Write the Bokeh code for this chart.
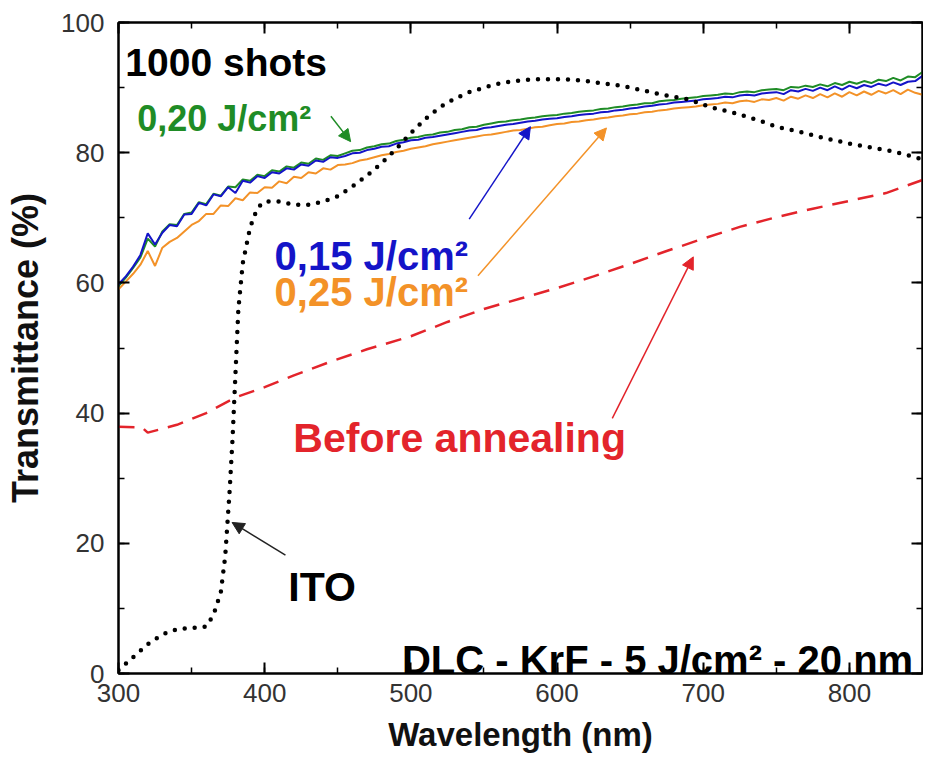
from bokeh.plotting import figure
from bokeh.models import (Range1d, LinearAxis, SingleIntervalTicker, Label, Arrow,
                          NormalHead, CustomLabelingPolicy)
from bokeh.embed import file_html
from bokeh.resources import INLINE

# ---------------- data ----------------
wl = list(range(300, 851, 5))

t_020 = [59.5, 60.8, 62.3, 63.9, 66.8, 65.6, 67.9, 69.0, 68.9, 70.6, 70.8, 72.4, 72.1, 73.7, 73.4, 74.8,
         74.7, 75.9, 75.7, 76.6, 76.4, 77.3, 77.1, 77.9, 77.7, 78.5, 78.3, 79.1, 78.9, 79.6, 79.5, 79.9,
         80.3, 80.4, 80.8, 81.0, 81.3, 81.4, 81.8, 82.0, 82.3, 82.4, 82.7, 82.8, 83.1, 83.2, 83.5, 83.6,
         83.9, 84.0, 84.3, 84.5, 84.7, 84.8, 85.0, 85.1, 85.3, 85.4, 85.6, 85.7, 85.8, 86.0, 86.1, 86.3,
         86.4, 86.5, 86.7, 86.8, 87.0, 87.1, 87.3, 87.4, 87.6, 87.6, 87.9, 88.0, 88.1, 88.3, 88.4, 88.5,
         88.7, 88.8, 88.9, 89.1, 89.0, 89.3, 89.4, 89.3, 89.6, 89.7, 89.8, 89.6, 90.1, 90.0, 90.3, 90.1,
         90.5, 90.2, 90.7, 90.4, 90.9, 90.6, 91.0, 90.7, 91.2, 91.0, 91.5, 91.1, 91.7, 91.6, 92.4]

t_015 = [59.8, 61.0, 62.5, 64.3, 67.6, 65.9, 67.7, 68.9, 68.7, 70.5, 70.6, 72.3, 71.9, 73.6, 73.3, 74.7,
         73.8, 75.7, 75.4, 76.4, 76.1, 77.0, 76.8, 77.6, 77.4, 78.2, 78.0, 78.8, 78.6, 79.3, 79.2, 79.5,
         79.9, 80.0, 80.4, 80.6, 80.9, 81.0, 81.4, 81.6, 81.9, 82.0, 82.3, 82.4, 82.6, 82.8, 83.0, 83.2,
         83.4, 83.5, 83.8, 83.9, 84.1, 84.3, 84.4, 84.6, 84.8, 84.9, 85.1, 85.2, 85.3, 85.5, 85.6, 85.8,
         85.9, 86.0, 86.2, 86.3, 86.5, 86.6, 86.8, 86.9, 87.1, 87.2, 87.4, 87.5, 87.7, 87.8, 87.9, 88.0,
         88.2, 88.3, 88.4, 88.6, 88.5, 88.8, 88.9, 88.8, 89.1, 89.2, 89.3, 89.0, 89.6, 89.4, 89.8, 89.5,
         90.0, 89.6, 90.2, 89.7, 90.3, 89.9, 90.4, 90.1, 90.6, 90.3, 90.8, 90.4, 90.9, 91.0, 91.8]

t_025 = [59.0, 60.2, 61.4, 62.8, 64.9, 62.6, 65.4, 66.3, 66.9, 67.9, 68.9, 69.5, 70.6, 70.6, 71.9, 71.8,
         73.0, 72.7, 73.9, 73.8, 74.7, 74.6, 75.6, 75.3, 76.3, 76.1, 77.0, 76.8, 77.6, 77.4, 78.1, 78.2,
         78.4, 78.8, 79.0, 79.3, 79.6, 79.8, 80.1, 80.3, 80.6, 80.8, 81.0, 81.3, 81.5, 81.7, 81.9, 82.1,
         82.3, 82.5, 82.7, 82.8, 83.0, 83.2, 83.4, 83.5, 83.7, 83.9, 84.0, 84.2, 84.4, 84.5, 84.7, 84.8,
         85.0, 85.1, 85.3, 85.4, 85.6, 85.7, 85.9, 86.0, 86.2, 86.3, 86.5, 86.6, 86.8, 86.9, 87.0, 87.1,
         87.3, 87.4, 87.5, 87.7, 87.6, 87.9, 88.0, 87.8, 88.2, 88.1, 88.4, 88.0, 88.6, 88.3, 88.8, 88.4,
         89.0, 88.5, 89.1, 88.6, 89.3, 88.8, 89.4, 88.9, 89.5, 89.1, 89.6, 89.0, 89.7, 89.2, 88.9]

before_wl = [300, 316, 320, 340, 360, 380, 400, 420, 445, 470, 500, 525, 550, 575, 600, 625, 650,
             675, 700, 725, 750, 775, 800, 825, 850]
before_t = [37.9, 37.8, 37.0, 38.2, 40.0, 42.4, 44.0, 45.8, 47.9, 49.8, 51.8, 54.0, 56.0, 57.6, 59.2,
            61.0, 62.9, 64.9, 66.8, 68.6, 70.1, 71.4, 72.6, 73.8, 75.8]

ito_wl = [300, 310, 320, 330, 340, 350, 360, 365, 370, 373, 376, 378, 380, 382, 385, 390, 395, 400,
          410, 420, 430, 440, 450, 460, 470, 480, 490, 500, 510, 520, 530, 540, 550, 560, 570, 580,
          590, 600, 610, 620, 630, 640, 650, 660, 670, 680, 690, 700, 710, 720, 730, 740, 750, 760,
          770, 780, 790, 800, 810, 820, 830, 840, 850]
ito_t = [0.5, 2.5, 4.5, 6.0, 6.8, 7.0, 7.2, 9.0, 12.5, 18.0, 28.0, 36.0, 46.0, 56.0, 63.0, 68.5, 71.5,
         72.5, 72.5, 72.0, 72.0, 72.5, 73.3, 74.8, 76.5, 78.4, 80.6, 83.0, 85.2, 87.0, 88.3, 89.3, 90.0,
         90.6, 91.0, 91.2, 91.3, 91.3, 91.2, 91.0, 90.7, 90.4, 90.0, 89.5, 89.0, 88.6, 88.2, 87.4, 86.7,
         86.2, 85.5, 84.8, 84.0, 83.5, 83.0, 82.4, 81.9, 81.4, 81.0, 80.6, 80.2, 79.6, 79.0]

x_ticks_interval = 100
y_ticks_interval = 20

GREEN = "#1f8c26"
BLUE = "#1414c8"
ORANGE = "#f39228"
RED = "#e3242b"
FONT = "Liberation Sans"

p = figure(width=923, height=755, output_backend="svg", toolbar_location=None,
           x_range=Range1d(300, 850), y_range=Range1d(0, 100),
           min_border_left=118, min_border_right=1, min_border_top=22, min_border_bottom=80)
p.grid.visible = False
p.outline_line_color = "black"
p.outline_line_width = 2
p.background_fill_color = "white"
p.border_fill_color = "white"

# series
p.line(wl, t_020, line_color=GREEN, line_width=2)
p.line(wl, t_025, line_color=ORANGE, line_width=2)
p.line(wl, t_015, line_color=BLUE, line_width=2)
p.line(before_wl, before_t, line_color=RED, line_width=2.5, line_dash="16 10")
p.line(ito_wl, ito_t, line_color="black", line_width=4.5, line_dash="0 10", line_cap="round")


def style_axis(ax, show_labels=True):
    ax.axis_line_width = 2
    ax.axis_line_color = "black"
    ax.major_tick_in = 11
    ax.major_tick_out = 0
    ax.minor_tick_in = 6
    ax.minor_tick_out = 0
    ax.major_tick_line_width = 2
    ax.minor_tick_line_width = 1.5
    ax.major_tick_line_color = "black"
    ax.minor_tick_line_color = "black"
    if show_labels:
        ax.major_label_text_font = FONT
        ax.major_label_text_font_size = "26px"
        ax.major_label_text_color = "#333333"
    else:
        ax.major_label_policy = CustomLabelingPolicy(code="return new Set()")
        ax.major_label_text_font_size = "0px"
        ax.major_label_standoff = 0


xa = p.xaxis[0]
xa.ticker = SingleIntervalTicker(interval=x_ticks_interval, num_minor_ticks=2)
style_axis(xa)
xa.major_label_standoff = 10
xa.axis_label = "Wavelength (nm)"
xa.axis_label_text_font = FONT
xa.axis_label_text_font_style = "bold"
xa.axis_label_text_font_size = "33px"
xa.axis_label_text_color = "#111111"
xa.axis_label_standoff = 11

ya = p.yaxis[0]
ya.ticker = SingleIntervalTicker(interval=y_ticks_interval, num_minor_ticks=2)
style_axis(ya)
ya.major_label_standoff = 14
ya.axis_label = "Transmittance (%)"
ya.axis_label_text_font = FONT
ya.axis_label_text_font_style = "bold"
ya.axis_label_text_font_size = "36px"
ya.axis_label_text_color = "#111111"
ya.axis_label_standoff = 12

top = LinearAxis(ticker=SingleIntervalTicker(interval=x_ticks_interval, num_minor_ticks=2))
style_axis(top, False)
p.add_layout(top, "above")
right = LinearAxis(ticker=SingleIntervalTicker(interval=y_ticks_interval, num_minor_ticks=2))
style_axis(right, False)
p.add_layout(right, "right")

# annotations
def add_label(x, y, text, color, size):
    p.add_layout(Label(x=x, y=y, text=text, text_color=color, text_font=FONT,
                       text_font_style="bold", text_font_size=size,
                       text_baseline="alphabetic", text_align="left"))

add_label(304.7, 93.8, "1000 shots", "black", "39px")
add_label(312.8, 85.3, "0,20 J/cm²", GREEN, "36px")
add_label(406.8, 64.1, "0,15 J/cm²", BLUE, "40px")
add_label(406.8, 58.6, "0,25 J/cm²", ORANGE, "40px")
add_label(419.6, 36.2, "Before annealing", RED, "41px")
add_label(416.2, 13.3, "ITO", "black", "41px")
add_label(493.9, 2.1, "DLC - KrF - 5 J/cm² - 20 nm", "black", "40px")


def add_arrow(x0, y0, x1, y1, color, lw=1.5):
    p.add_layout(Arrow(end=NormalHead(size=12, fill_color=color, line_color=color, line_width=1),
                       x_start=x0, y_start=y0, x_end=x1, y_end=y1,
                       line_color=color, line_width=lw))

add_arrow(445.3, 85.6, 458.8, 81.7, GREEN)
add_arrow(539.9, 69.8, 581.8, 84.0, BLUE)
add_arrow(545.9, 61.1, 633.8, 83.8, ORANGE)
add_arrow(637.8, 39.2, 693.2, 64.0, RED)
add_arrow(414.2, 18.2, 377.7, 23.2, "#222222")

open("out.html", "w").write(file_html(p, INLINE))
